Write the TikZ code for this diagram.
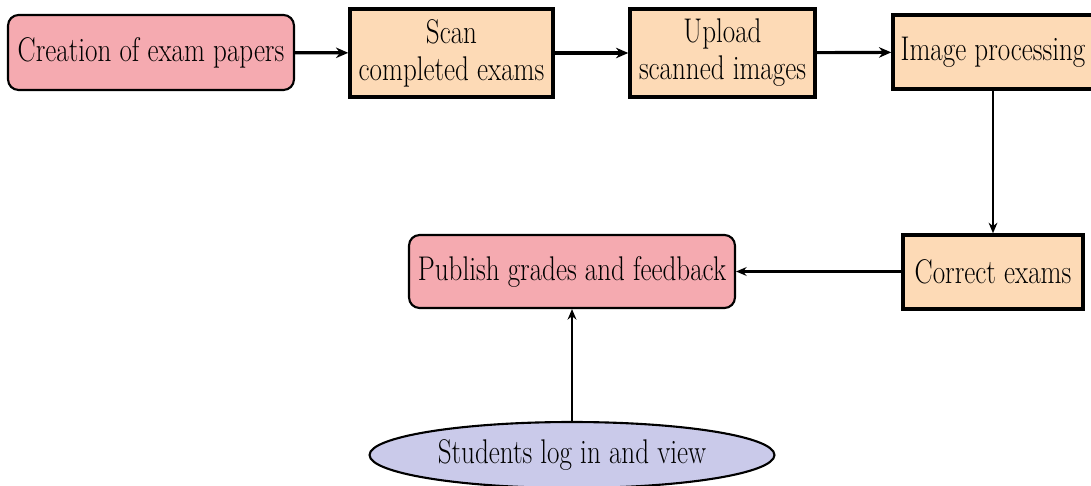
\documentclass[tikz,border=0pt]{standalone}
\usepackage{fontspec}
\newfontfamily\boxfont{Latin Modern Roman}[FakeStretch=0.79]
\usepackage{tikz}
\usetikzlibrary{shapes.geometric}
\usetikzlibrary{arrows.meta}
\usepackage{xcolor}
\definecolor{pinkfill}{RGB}{245,170,176}
\definecolor{peachfill}{RGB}{253,218,182}
\definecolor{lilacfill}{RGB}{202,202,234}
\tikzset{
	boxtext/.style={align=center, inner sep=0pt, font=\boxfont\fontsize{19.5}{21}\selectfont},
	stagebox/.style={boxtext, draw, rectangle, line width=2pt, fill=peachfill},
	endbox/.style={boxtext, draw, rectangle, rounded corners=6pt, line width=1.2pt, fill=pinkfill},
	userbox/.style={boxtext, draw, ellipse, line width=1.2pt, fill=lilacfill},
	flow/.style={-{Stealth[length=7pt,width=6pt]}, line width=1.8pt},
	thinflow/.style={-{Stealth[length=6pt,width=5pt]}, line width=1.3pt}
}
\begin{document}
\begin{tikzpicture}[x=0.02cm, y=-0.02cm]
		\useasboundingbox (0,0) rectangle (1091,486);
		\node[endbox, minimum width=5.72cm, minimum height=1.5cm] (create) at (151,52.5) {Creation of exam papers};
		\node[stagebox, minimum width=4.06cm, minimum height=1.76cm] (scan) at (451.5,53) {Scan\\completed exams};
		\node[stagebox, minimum width=3.7cm, minimum height=1.76cm] (upload) at (722.5,53) {Upload\\scanned images};
		\node[stagebox, minimum width=4cm, minimum height=1.48cm] (process) at (993,52) {Image processing};
		\node[stagebox, minimum width=3.6cm, minimum height=1.48cm] (correct) at (993,272) {Correct exams};
		\node[endbox, minimum width=6.52cm, minimum height=1.46cm] (publish) at (572,271.5) {Publish grades and feedback};
		\node[userbox, minimum width=8.1cm, minimum height=1.32cm] (students) at (572,455) {Students log in and view};
		
		\draw[flow] (create) -- (scan);
		\draw[flow] (scan) -- (upload);
		\draw[flow] (upload) -- (process);
		\draw[thinflow] (process.south) -- (correct.north);
		\draw[thinflow] (correct.west |- publish.east) -- (publish.east);
		\draw[thinflow] (students.north) -- (publish.south);
		\end{tikzpicture}
\end{document}
